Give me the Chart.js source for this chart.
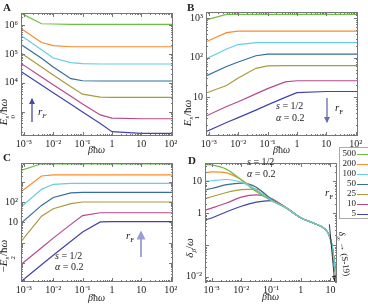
<!DOCTYPE html>
<html lang="en">
  <head>
    <meta charset="UTF-8" />
    <title>Panels</title>
    <script src="https://cdn.jsdelivr.net/npm/chart.js"></script>
    <style>
      body { margin: 0; background: #fff; width: 368px; height: 306px; overflow: hidden; position: relative;
             font-family: "Liberation Serif", serif; color: #222; }
      canvas { position: absolute; }
      .t { position: absolute; white-space: nowrap; font-size: 10px; line-height: 1; }
      .big { font-weight: bold; font-size: 11px; }
      .rot { transform: translate(-50%, -50%) rotate(-90deg); font-size: 11px; }
      .ss { display: inline-flex; flex-direction: column; font-size: 7px; line-height: 0.9; vertical-align: -2px; }
      .leg { position: absolute; left: 339px; top: 147px; width: 40px; height: 70px; border: 1px solid #aaa; background: #fff; }
      svg { position: absolute; left: 0; top: 0; }
    </style>
  </head>
  <body>
    <canvas id="cA" width="184" height="150" style="left:0;top:0"></canvas>
    <canvas id="cB" width="184" height="150" style="left:184px;top:0"></canvas>
    <canvas id="cC" width="184" height="156" style="left:0;top:150px"></canvas>
    <canvas id="cD" width="184" height="156" style="left:184px;top:150px"></canvas>

    <div class="t big" style="left:3px;top:2px">A</div>
    <div class="t big" style="left:187px;top:2px">B</div>
    <div class="t big" style="left:3px;top:152px">C</div>
    <div class="t big" style="left:188px;top:155px">D</div>

    <div class="t rot" style="left:7px;top:112px"><i>E</i><span class="ss"><i>s</i><span>0</span></span>/ħ<i>ω</i></div>
    <div class="t rot" style="left:191px;top:113px"><i>E</i><span class="ss"><i>s</i><span>1</span></span>/ħ<i>ω</i></div>
    <div class="t rot" style="left:7px;top:256px">−<i>E</i><span class="ss"><i>s</i><span>2</span></span>/ħ<i>ω</i></div>
    <div class="t rot" style="left:191px;top:248px"><i>δ<sub style="font-size:7px">β</sub></i>/<i>ω</i></div>

    <div class="t" style="left:88px;top:145px"><i>β</i>ħ<i>ω</i></div>
    <div class="t" style="left:273px;top:145px"><i>β</i>ħ<i>ω</i></div>
    <div class="t" style="left:88px;top:293px"><i>β</i>ħ<i>ω</i></div>
    <div class="t" style="left:262px;top:292px"><i>β</i>ħ<i>ω</i></div>

    <div class="t" style="left:38px;top:106px;font-size:11px"><i>r</i><sub style="font-size:7px"><i>F</i></sub></div>

    <div class="t" style="left:276px;top:101px"><i>s</i> = 1/2</div>
    <div class="t" style="left:276px;top:113px"><i>α</i> = 0.2</div>
    <div class="t" style="left:335px;top:102px;font-size:11px"><i>r</i><sub style="font-size:7px">F</sub></div>

    <div class="t" style="left:55px;top:251px"><i>s</i> = 1/2</div>
    <div class="t" style="left:55px;top:262px"><i>α</i> = 0.2</div>
    <div class="t" style="left:126px;top:230px;font-size:11px"><i>r</i><sub style="font-size:7px">F</sub></div>

    <div class="t" style="left:247px;top:157px"><i>s</i> = 1/2</div>
    <div class="t" style="left:247px;top:169px"><i>α</i> = 0.2</div>
    <div class="t" style="left:343px;top:254px;font-size:9px;transform:translate(-50%,-50%) rotate(83deg)"><i>δ</i><sub style="font-size:6px">∞</sub> → (S-19)</div>

    <div class="leg" id="leg"></div>
    <div class="t" style="left:325px;top:187px;font-size:11px"><i>r</i><sub style="font-size:7px">F</sub></div>

    <svg width="368" height="306">
      <defs>
        <marker id="ah" viewBox="0 0 6 6" refX="5" refY="3" markerWidth="5" markerHeight="5" orient="auto">
          <path d="M0,0 L6,3 L0,6 z" fill="context-stroke" />
        </marker>
      </defs>
      <line x1="32" y1="122" x2="32" y2="99" stroke="#4848a6" stroke-width="1.3" marker-end="url(#ah)" />
      <line x1="327" y1="98" x2="327" y2="122" stroke="#6a6ab4" stroke-width="1.3" marker-end="url(#ah)" />
      <line x1="141" y1="257" x2="141" y2="232" stroke="#9c9cd2" stroke-width="1.8" marker-end="url(#ah)" />
    </svg>

    <script>
      // shared axes
      var xTicks = [1e-3, 1e-2, 1e-1, 1, 10, 100];
      var xTickText = ["10⁻³", "10⁻²", "10⁻¹", "1", "10", "10²"];
      var xSample = [8e-4, 4e-3, 1e-2, 4e-2, 0.1, 0.4, 1, 10, 120];

      var rF = ["500", "200", "100", "50", "25", "10", "5"];
      var colors = ["#6cbf45", "#fb8a2a", "#66cde3", "#336f96", "#a99a3e", "#b5498c", "#4343ad"];

      // A: E0/hw
      var e0Green = [2.6e6, 1.12e6, 1.1e6, 1.07e6, 1.07e6, 1.07e6, 1.07e6, 1.07e6, 1.07e6];
      var e0Orange = [7.6e5, 2.5e5, 1.95e5, 1.78e5, 1.78e5, 1.78e5, 1.78e5, 1.78e5, 1.78e5];
      var e0Cyan = [4.4e5, 1.41e5, 7.2e4, 5.0e4, 4.6e4, 4.47e4, 4.47e4, 4.47e4, 4.47e4];
      var e0Steel = [2.14e5, 7.1e4, 3.55e4, 1.38e4, 1.17e4, 1.15e4, 1.15e4, 1.15e4, 1.15e4];
      var e0Olive = [1.07e5, 3.55e4, 1.86e4, 7.2e3, 4.0e3, 3.16e3, 3.1e3, 3.1e3, 3.1e3];
      var e0Magenta = [4.7e4, 1.58e4, 8.5e3, 3.4e3, 1.82e3, 760, 590, 560, 560];
      var e0Blue = [2.45e4, 8.3e3, 4.5e3, 1.78e3, 955, 380, 200, 174, 174];
      var yTicksA = [1e4, 1e5, 1e6];
      var yTextA = ["10⁴", "10⁵", "10⁶"];

      // B: E1/hw
      var e1Green = [890, 1230, 1230, 1230, 1230, 1230, 1230, 1230, 1230];
      var e1Orange = [251, 427, 468, 468, 468, 468, 468, 468, 468];
      var e1Cyan = [93, 166, 214, 240, 240, 240, 240, 240, 240];
      var e1Steel = [34.7, 60, 78, 112, 123, 123, 123, 123, 123];
      var e1Olive = [12.9, 20, 31, 54, 62, 63, 63, 63, 63];
      var e1Magenta = [3.4, 5.9, 7.8, 12.3, 16.6, 24.5, 26.3, 26.3, 26.3];
      var e1Blue = [1.38, 2.34, 3.1, 4.8, 6.5, 10, 13.2, 14.1, 14.1];
      var yTicksB = [10, 100, 1000];
      var yTextB = ["10", "10²", "10³"];

      // C: -E2/hw
      var e2Green = [3550, 7600, 7600, 7600, 7600, 7600, 7600, 7600, 7600];
      var e2Orange = [316, 1900, 2140, 2140, 2140, 2140, 2140, 2140, 2140];
      var e2Cyan = [56, 417, 741, 832, 832, 832, 832, 832, 832];
      var e2Steel = [8.9, 68, 166, 282, 295, 295, 295, 295, 295];
      var e2Olive = [1.12, 20, 46.8, 83, 100, 100, 100, 100, 100];
      var e2Magenta = [0.083, 0.56, 1.66, 7.9, 21.4, 29.5, 29.5, 29.5, 29.5];
      var e2Blue = [0.012, 0.081, 0.24, 1.17, 3.3, 10.5, 10.7, 10.7, 10.7];
      var yTicksC = [10, 100];
      var yTextC = ["10", "10²"];

      // D: delta_beta/omega
      var dX = [6.3e-4, 1e-3, 3.2e-3, 1e-2, 3.2e-2, 0.1, 0.32, 1, 3.2, 6.3, 8.9, 11.2, 13.2, 16.6];
      var dGreen = [34, 33, 24, 11.2, 4.8, 2.5, 1.48, 0.72, 0.46, 0.33, 0.21, 0.1, 0.035, 0.0056];
      var dOrange = [19, 20, 18.6, 11.2, 5.2, 2.57, 1.48, 0.72, 0.46, 0.33, 0.21, 0.1, 0.035, 0.0056];
      var dCyan = [10, 10.5, 11.5, 9.5, 5.5, 2.63, 1.48, 0.72, 0.46, 0.33, 0.21, 0.1, 0.035, 0.0056];
      var dSteel = [5.5, 6.0, 7.9, 8.9, 6.6, 2.75, 1.48, 0.72, 0.46, 0.33, 0.21, 0.1, 0.035, 0.0056];
      var dOlive = [2.95, 3.3, 4.5, 5.5, 5.75, 2.88, 1.48, 0.72, 0.46, 0.33, 0.21, 0.1, 0.035, 0.0056];
      var dMagenta = [1.26, 1.45, 2.1, 3.2, 3.8, 2.95, 1.5, 0.72, 0.46, 0.33, 0.21, 0.1, 0.035, 0.0056];
      var dBlue = [0.62, 0.71, 1.12, 1.66, 2.24, 2.5, 1.52, 0.72, 0.46, 0.33, 0.21, 0.1, 0.035, 0.0056];
      var xTicksD = [1e-3, 1e-2, 1e-1, 1, 10];
      var xTextD = ["10⁻³", "10⁻²", "10⁻¹", "1", "10"];
      var yTicksD = [0.01, 1, 10];
      var yTextD = ["10⁻²", "1", "10"];
      var arrowX = [9.2, 13.8];
      var arrowY = [0.45, 0.0072];

      var font = { family: "Liberation Serif", size: 10 };

      // box + inward minor ticks on all four sides
      var frame = {
        id: "frame",
        afterDraw: function (chart) {
          var ctx = chart.ctx, a = chart.chartArea;
          ctx.save();
          ctx.strokeStyle = "#777";
          ctx.lineWidth = 1;
          ctx.strokeRect(Math.round(a.left) + 0.5, Math.round(a.top) + 0.5, Math.round(a.width) - 1, Math.round(a.height) - 1);
          ctx.beginPath();
          ["x", "y"].forEach(function (k) {
            var s = chart.scales[k];
            var lo = Math.floor(Math.log10(s.min)), hi = Math.ceil(Math.log10(s.max));
            for (var d = lo; d <= hi; d++) {
              for (var m = 1; m < 10; m++) {
                var v = m * Math.pow(10, d);
                if (v < s.min || v > s.max) continue;
                var p = Math.round(s.getPixelForValue(v)) + 0.5;
                var len = m == 1 ? 4 : 2;
                if (k == "x") {
                  ctx.moveTo(p, a.bottom); ctx.lineTo(p, a.bottom - len);
                  ctx.moveTo(p, a.top); ctx.lineTo(p, a.top + len);
                } else {
                  ctx.moveTo(a.left, p); ctx.lineTo(a.left + len, p);
                  ctx.moveTo(a.right, p); ctx.lineTo(a.right - len, p);
                }
              }
            }
          });
          ctx.stroke();
          ctx.restore();
        },
      };

      function axis(min, max, ticks, text, size, isX) {
        return {
          type: "logarithmic",
          min: min,
          max: max,
          grid: { display: false, drawTicks: false },
          border: { display: false },
          afterBuildTicks: function (s) {
            s.ticks = ticks.map(function (v) { return { value: v }; });
          },
          afterFit: function (s) {
            if (isX) s.height = size; else s.width = size;
          },
          ticks: {
            autoSkip: false,
            maxRotation: 0,
            padding: isX ? 2 : 3,
            color: "#222",
            font: font,
            callback: function (v) { return text[ticks.indexOf(v)]; },
          },
        };
      }

      function panel(id, xs, rows, o) {
        var sets = rows.map(function (row, i) {
          return {
            data: row.map(function (v, j) { return { x: xs[j], y: v }; }),
            borderColor: colors[i],
            borderWidth: 1.2,
            pointRadius: 0,
            fill: false,
            order: o.top == i ? -1 : i,
            cubicInterpolationMode: o.smooth ? "monotone" : "default",
            tension: o.smooth ? 0.4 : 0,
          };
        });
        return new Chart(document.getElementById(id), {
          type: "line",
          data: { datasets: sets },
          options: {
            responsive: false,
            animation: false,
            layout: { padding: o.pad },
            plugins: { legend: { display: false }, tooltip: { enabled: false } },
            scales: {
              x: axis(o.x[0], o.x[1], o.xt || xTicks, o.xs || xTickText, o.xh, true),
              y: axis(o.y[0], o.y[1], o.yt, o.ys, o.yw, false),
            },
          },
          plugins: [frame].concat(o.extra || []),
        });
      }

      panel("cA", xSample, [e0Green, e0Orange, e0Cyan, e0Steel, e0Olive, e0Magenta, e0Blue], {
        x: [8e-4, 120], y: [141, 2.65e6], yt: yTicksA, ys: yTextA,
        pad: { top: 13, right: 11, bottom: 0, left: 0 }, xh: 14, yw: 21,
      });
      panel("cB", xSample, [e1Green, e1Orange, e1Cyan, e1Steel, e1Olive, e1Magenta, e1Blue], {
        x: [8e-4, 120], y: [1.07, 1410], yt: yTicksB, ys: yTextB,
        pad: { top: 12, right: 10, bottom: 0, left: 0 }, xh: 14, yw: 22,
      });
      panel("cC", xSample, [e2Green, e2Orange, e2Cyan, e2Steel, e2Olive, e2Magenta, e2Blue], {
        x: [8e-4, 120], y: [0.0115, 8300], yt: yTicksC, ys: yTextC,
        pad: { top: 13, right: 11, bottom: 10, left: 0 }, xh: 14, yw: 21,
      });

      var arrow = {
        id: "arrow",
        afterDatasetsDraw: function (chart) {
          var ctx = chart.ctx, sx = chart.scales.x, sy = chart.scales.y;
          var x1 = sx.getPixelForValue(arrowX[0]), y1 = sy.getPixelForValue(arrowY[0]);
          var x2 = sx.getPixelForValue(arrowX[1]), y2 = sy.getPixelForValue(arrowY[1]);
          var ang = Math.atan2(y2 - y1, x2 - x1);
          ctx.save();
          ctx.strokeStyle = "#222";
          ctx.fillStyle = "#222";
          ctx.lineWidth = 0.9;
          ctx.beginPath(); ctx.moveTo(x1, y1); ctx.lineTo(x2, y2); ctx.stroke();
          ctx.beginPath();
          ctx.moveTo(x2, y2);
          ctx.lineTo(x2 - 6 * Math.cos(ang - 0.35), y2 - 6 * Math.sin(ang - 0.35));
          ctx.lineTo(x2 - 6 * Math.cos(ang + 0.35), y2 - 6 * Math.sin(ang + 0.35));
          ctx.fill();
          ctx.restore();
        },
      };

      panel("cD", dX, [dGreen, dOrange, dCyan, dSteel, dOlive, dMagenta, dBlue], {
        x: [6.3e-4, 16.6], y: [0.0069, 38], xt: xTicksD, xs: xTextD, yt: yTicksD, ys: yTextD,
        pad: { top: 13, right: 31, bottom: 10, left: 0 }, xh: 14, yw: 21, smooth: true, top: 2,
        extra: [arrow],
      });

      // legend
      var leg = document.getElementById("leg");
      var html = "";
      rF.forEach(function (r, i) {
        var top = 1 + i * 10;
        html += '<div class="t" style="right:24px;top:' + top + 'px;font-size:9px">' + r + "</div>";
        html += '<div style="position:absolute;left:17px;width:14px;top:' + (top + 5) + "px;height:1.3px;background:" + colors[i] + '"></div>';
      });
      leg.innerHTML = html;
    </script>
  </body>
</html>
